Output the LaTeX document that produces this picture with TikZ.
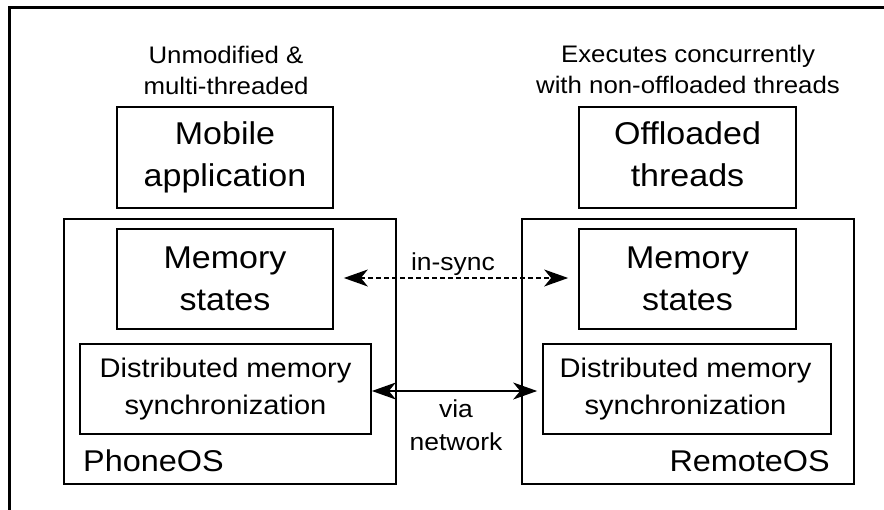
\documentclass[tikz,border=0pt]{standalone}
\usepackage{fontspec}
\setmainfont{Liberation Sans}[FakeStretch=1.08]
\usetikzlibrary{arrows.meta}
\begin{document}
\begin{tikzpicture}[x=1pt,y=-1pt,
  >={Stealth[length=24pt, width=17pt, inset=7pt]},
  box/.style={draw, line width=1.7pt, inner sep=0pt, fill=none},
  bigtxt/.style={anchor=base, inner sep=0pt, font=\fontsize{31.5}{36}\selectfont},
  smalltxt/.style={anchor=base, inner sep=0pt, font=\fontsize{23.9}{28}\selectfont},
  disttxt/.style={anchor=base, inner sep=0pt, font=\fontsize{26.9}{31}\selectfont},
  ostxt/.style={inner sep=0pt, font=\fontsize{30}{34}\selectfont},
  linktxt/.style={anchor=base, inner sep=0pt, font=\fontsize{24.5}{28}\selectfont},
  link/.style={line width=1.5pt, <->}
]
\useasboundingbox (0,0) rectangle (884,509);
% outer frame (only the top and left edges fall inside the page)
\draw[line width=3pt] (9.5,540) -- (9.5,7.5) -- (900,7.5);

% phone side
\node[box, minimum width=216, minimum height=101] (app) at (225,157.5) {};
\node[box, minimum width=332, minimum height=265] (phone) at (230,351.5) {};
\node[box, minimum width=216, minimum height=100] (memL) at (225,279) {};
\node[box, minimum width=291, minimum height=90] (distL) at (225.5,389) {};

% remote side
\node[box, minimum width=217, minimum height=101] (off) at (687.5,157.5) {};
\node[box, minimum width=332, minimum height=265] (remote) at (688,351.5) {};
\node[box, minimum width=217, minimum height=100] (memR) at (687.5,279) {};
\node[box, minimum width=288, minimum height=90] (distR) at (687,389) {};

% captions above
\node[smalltxt] (capL1) at (226,63) {Unmodified \&};
\node[smalltxt] (capL2) at (226,94) {multi-threaded};
\node[smalltxt] (capR1) at (688,62) {Executes concurrently};
\node[smalltxt] (capR2) at (688,93) {with non-offloaded threads};

% box texts
\node[bigtxt] (appT1) at (225,144) {Mobile};
\node[bigtxt] (appT2) at (225,186) {application};
\node[bigtxt] (offT1) at (687.5,144) {Offloaded};
\node[bigtxt] (offT2) at (687.5,186) {threads};
\node[bigtxt] (memLT1) at (225,268) {Memory};
\node[bigtxt] (memLT2) at (225,310) {states};
\node[bigtxt] (memRT1) at (687.5,268) {Memory};
\node[bigtxt] (memRT2) at (687.5,310) {states};
\node[disttxt] (distLT1) at (225.5,377) {Distributed memory};
\node[disttxt] (distLT2) at (225.5,414) {synchronization};
\node[disttxt] (distRT1) at (685.5,377) {Distributed memory};
\node[disttxt] (distRT2) at (685.5,414) {synchronization};
\node[ostxt, anchor=base west] (phoneT) at (83,471) {PhoneOS};
\node[ostxt, anchor=base east] (remoteT) at (830,471) {RemoteOS};

% connectors
\draw[link, dash pattern=on 5pt off 3pt] ([xshift=10pt, yshift=1pt]memL.east) -- ([xshift=-10pt, yshift=1pt]memR.west);
\draw[link] ([yshift=-2pt]distL.east) -- ([xshift=-5pt, yshift=-2pt]distR.west);
\node[linktxt] (sync) at (453,270) {in-sync};
\node[linktxt] (via1) at (456,417) {via};
\node[linktxt] (via2) at (456,450) {network};
\end{tikzpicture}
\end{document}
